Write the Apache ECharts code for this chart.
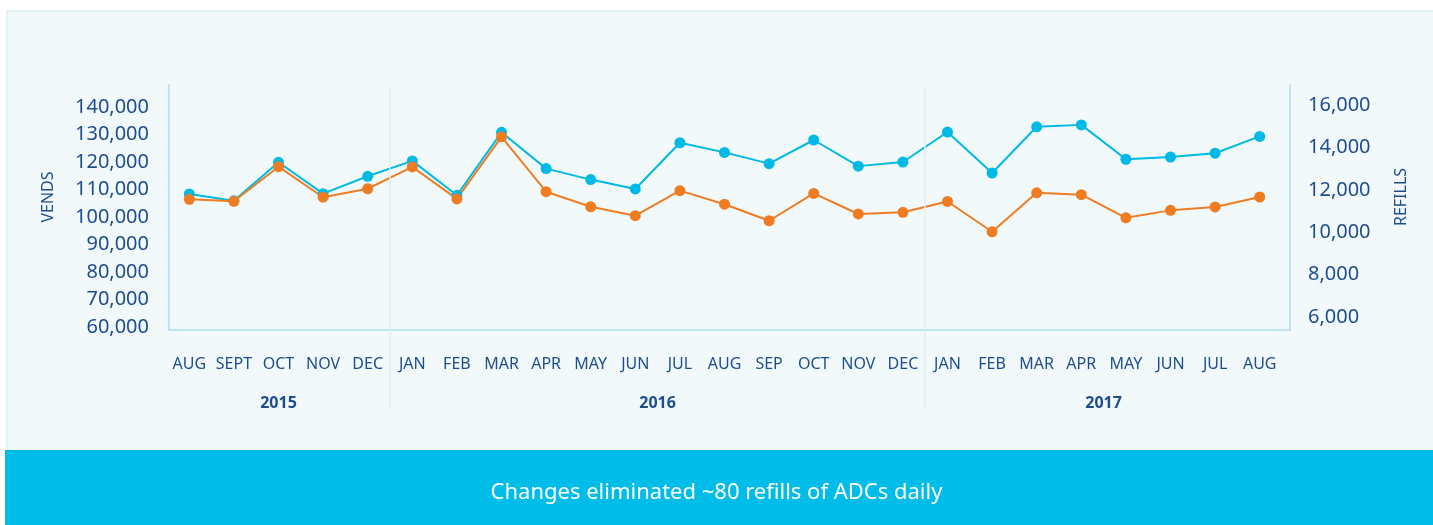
<!DOCTYPE html>
<html><head><meta charset="utf-8">
<script src="https://cdn.jsdelivr.net/npm/echarts@6/dist/echarts.min.js"></script>
<style>html,body{margin:0;padding:0;background:#fff}#c{width:1433px;height:525px}</style>
</head><body><div id="c"></div><script>
// ---- data ----
const months = ['AUG','SEPT','OCT','NOV','DEC','JAN','FEB','MAR','APR','MAY','JUN','JUL','AUG','SEP','OCT','NOV','DEC','JAN','FEB','MAR','APR','MAY','JUN','JUL','AUG'];
const monthYear = ['2015','2015','2015','2015','2015','2016','2016','2016','2016','2016','2016','2016','2016','2016','2016','2016','2016','2017','2017','2017','2017','2017','2017','2017','2017'];
const years = ['2015','2016','2017'];
const vends = [108400,105900,119900,108500,114800,120400,107900,130800,117600,113600,110200,127000,123500,119400,128000,118500,120000,130900,116000,132800,133500,121000,121800,123200,129300];
const refills = [11550,11460,13090,11650,12050,13080,11570,14500,11910,11200,10780,11960,11320,10540,11830,10860,10940,11450,10020,11860,11770,10680,11030,11190,11660];
const vendsAxis = {min:60000, max:140000, interval:10000};
const refillsAxis = {min:6000, max:16000, interval:2000};
const axisNames = {left:'VENDS', right:'REFILLS'};
const caption = 'Changes eliminated ~80 refills of ADCs daily';

// ---- derived ----
const yearSpans = years.map(y => {
  const idx = monthYear.map((v,i)=> v===y ? i : -1).filter(i => i >= 0);
  return {year:y, first:idx[0], last:idx[idx.length-1]};
});
const yearCenters = yearSpans.map(s => (s.first + s.last) / 2);
const separators = yearSpans.slice(1).map(s => s.first - 0.5);

const FONT = 'Noto Sans';
const TXT = '#1e4d8f';
const BLUE = '#00b9e4';
const ORANGE = '#f07c22';
const FRAME = '#bfe4ef';
const fmt = v => v.toLocaleString('en-US');

const chart = echarts.init(document.getElementById('c'), null, {renderer:'canvas'});
const noAxis = {axisLine:{show:false}, axisTick:{show:false}, axisLabel:{show:false}, splitLine:{show:false}};

chart.setOption({
  backgroundColor:'#ffffff',
  animation:false,
  textStyle:{fontFamily:FONT},
  title:{
    text:caption, left:'center', top:477,
    textStyle:{color:'#ffffff', fontSize:22, fontWeight:'normal', fontFamily:FONT}
  },
  graphic:[
    {type:'rect', z:-100, shape:{x:7, y:11, width:1430, height:445}, style:{fill:'#f2f9fb', stroke:'#c6e8f1', lineWidth:1}},
    {type:'rect', z:-90, shape:{x:5, y:450, width:1430, height:76}, style:{fill:'#00bce8'}},
    {type:'text', x:48, y:197, rotation:Math.PI/2, style:{text:axisNames.left, fill:TXT, font:'16px "Noto Sans"', textAlign:'center', textVerticalAlign:'middle'}},
    {type:'text', x:1401, y:197, rotation:Math.PI/2, style:{text:axisNames.right, fill:TXT, font:'16px "Noto Sans"', textAlign:'center', textVerticalAlign:'middle'}}
  ],
  grid:[
    {left:167, right:151, top:107, bottom:198},   // vends
    {left:167, right:151, top:105, bottom:208},   // refills
    {left:169, right:143, top:85, bottom:195},    // frame
    {left:167, right:151, top:87, bottom:115},    // year separators
    {left:167, right:151, top:300, bottom:140}    // year labels
  ],
  xAxis:[
    {gridIndex:0, type:'category', data:months, boundaryGap:true,
      axisLine:{show:false}, axisTick:{show:false}, splitLine:{show:false},
      axisLabel:{interval:0, margin:29, color:TXT, fontSize:16, fontFamily:FONT}},
    Object.assign({gridIndex:1, type:'category', data:months, boundaryGap:true}, noAxis),
    Object.assign({gridIndex:2, type:'value', min:0, max:1}, noAxis, {axisLine:{show:true, onZero:false, lineStyle:{color:FRAME, width:2}}}),
    Object.assign({gridIndex:3, type:'value', min:-0.5, max:months.length-0.5}, noAxis),
    {gridIndex:4, type:'value', min:-0.5, max:months.length-0.5,
      axisLine:{show:false}, axisTick:{show:false}, splitLine:{show:false},
      axisLabel:{show:true, customValues:yearCenters, margin:10, color:TXT, fontSize:16, fontWeight:'bold', fontFamily:FONT,
        formatter:v => years[yearCenters.indexOf(v)] || ''}}
  ],
  yAxis:[
    {gridIndex:0, type:'value', position:'left', min:vendsAxis.min, max:vendsAxis.max, interval:vendsAxis.interval,
      axisLine:{show:false}, axisTick:{show:false}, splitLine:{show:false},
      axisLabel:{margin:18, color:TXT, fontSize:20, fontFamily:FONT, formatter:fmt}},
    {gridIndex:1, type:'value', position:'right', min:refillsAxis.min, max:refillsAxis.max, interval:refillsAxis.interval,
      axisLine:{show:false}, axisTick:{show:false}, splitLine:{show:false},
      axisLabel:{margin:26, color:TXT, fontSize:20, fontFamily:FONT, formatter:fmt}},
    Object.assign({gridIndex:2, type:'value', position:'left', min:0, max:1}, noAxis, {axisLine:{show:true, onZero:false, lineStyle:{color:FRAME, width:2}}}),
    Object.assign({gridIndex:2, type:'value', position:'right', min:0, max:1}, noAxis, {axisLine:{show:true, onZero:false, lineStyle:{color:FRAME, width:2}}}),
    Object.assign({gridIndex:3, type:'value', min:0, max:1}, noAxis),
    Object.assign({gridIndex:4, type:'value', min:0, max:1}, noAxis)
  ],
  series:[
    {name:'separators', type:'line', xAxisIndex:3, yAxisIndex:4, data:[], silent:true,
      markLine:{silent:true, symbol:'none', label:{show:false},
        lineStyle:{color:'#e3ecef', width:1.5, type:'solid'},
        data:separators.map(v => ({xAxis:v}))}},
    {name:axisNames.left, type:'line', xAxisIndex:0, yAxisIndex:0, data:vends,
      symbol:'circle', symbolSize:11, showAllSymbol:true,
      lineStyle:{color:BLUE, width:2}, itemStyle:{color:BLUE}},
    {name:axisNames.right, type:'line', xAxisIndex:1, yAxisIndex:1, data:refills,
      symbol:'circle', symbolSize:11, showAllSymbol:true,
      lineStyle:{color:ORANGE, width:2}, itemStyle:{color:ORANGE}}
  ]
});
</script></body></html>
